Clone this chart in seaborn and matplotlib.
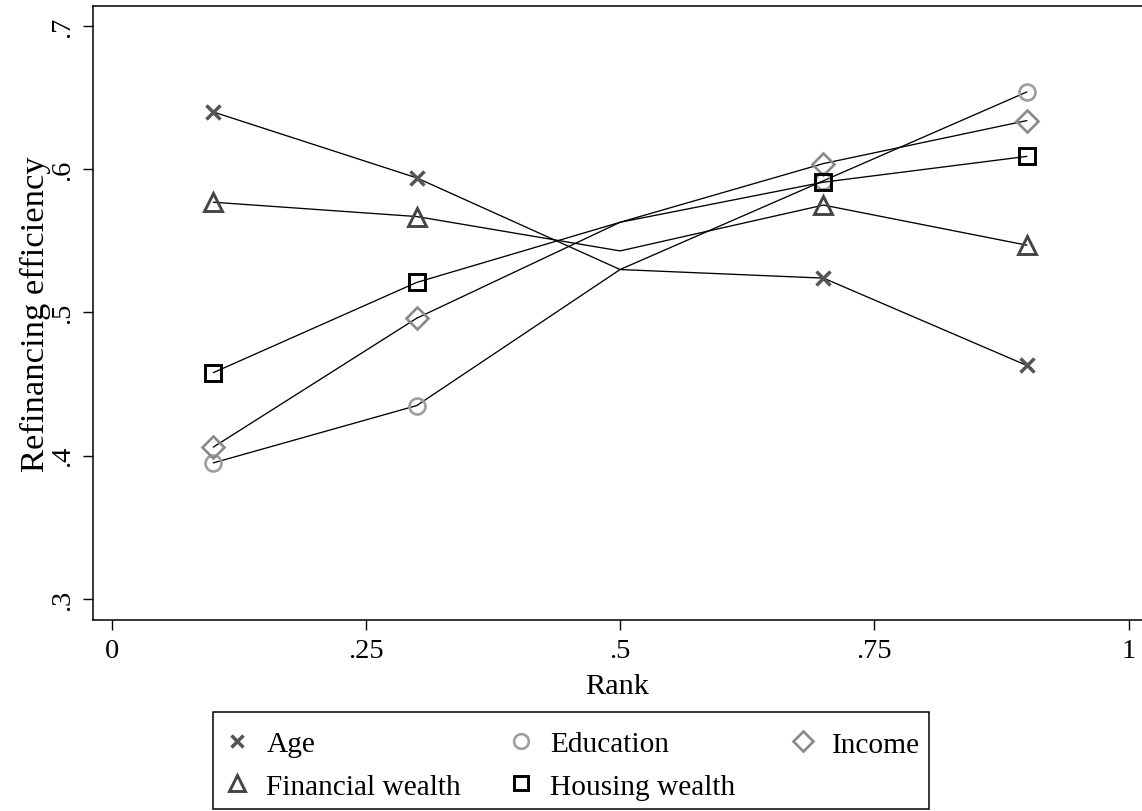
import matplotlib
matplotlib.use("Agg")
import matplotlib.pyplot as plt
import seaborn as sns
import pandas as pd
from matplotlib.lines import Line2D
from matplotlib.patches import Rectangle

# ---------------- data ----------------
rank = [0.1, 0.3, 0.5, 0.7, 0.9]
marked_points = [0, 1, 3, 4]          # points that carry a marker (none at .5)
age = [0.640, 0.594, 0.530, 0.524, 0.463]
education = [0.395, 0.435, 0.530, 0.592, 0.654]
income = [0.406, 0.496, 0.563, 0.604, 0.634]
financial_wealth = [0.577, 0.567, 0.543, 0.575, 0.547]
housing_wealth = [0.458, 0.521, 0.563, 0.591, 0.609]
series_names = ["Age", "Education", "Income", "Financial wealth", "Housing wealth"]
x_ticks = [0, 0.25, 0.5, 0.75, 1]
x_tick_labels = ["0", ".25", ".5", ".75", "1"]
y_ticks = [0.3, 0.4, 0.5, 0.6, 0.7]
y_tick_labels = [".3", ".4", ".5", ".6", ".7"]

values = {
    "Age": age,
    "Education": education,
    "Income": income,
    "Financial wealth": financial_wealth,
    "Housing wealth": housing_wealth,
}
rows = []
for name in series_names:
    for r, v in zip(rank, values[name]):
        rows.append({"Rank": r, "value": v, "series": name})
df = pd.DataFrame(rows)

styles = {
    "Age": dict(marker="x", mec="#555555", ms=10, mew=2.5),
    "Education": dict(marker="o", mec="#9e9e9e", ms=11.5, mew=1.9),
    "Income": dict(marker="D", mec="#8a8a8a", ms=11.5, mew=1.9),
    "Financial wealth": dict(marker="^", mec="#454545", ms=12.5, mew=2.1),
    "Housing wealth": dict(marker="s", mec="#000000", ms=11, mew=2.1),
}

# ---------------- style ----------------
sns.set_theme(style="white")
plt.rcParams["font.family"] = ["Liberation Serif", "DejaVu Serif"]
FS_TICK = 20.5
FS_XLAB = 21.8
FS_YLAB = 24.8
FS_LEG = 21.2

W, H = 1142, 812
fig = plt.figure(figsize=(W / 100, H / 100), dpi=100)
L, R, B, T = 92.8, 1142, 621, 7
ax = fig.add_axes([L / W, (H - B) / H, (R - L) / W, (B - T) / H])

for name in series_names:
    st = styles[name]
    sns.lineplot(
        data=df[df["series"] == name], x="Rank", y="value",
        color="black", linewidth=0.95, ax=ax, sort=True,
        marker=st["marker"], markevery=marked_points,
        markerfacecolor="none", markeredgecolor=st["mec"],
        markersize=st["ms"], markeredgewidth=st["mew"],
    )

ax.set_xlim(-0.0185, 1.0132)
ax.set_ylim(0.2853, 0.714)
ax.set_xticks(x_ticks)
ax.set_xticklabels(x_tick_labels)
ax.set_yticks(y_ticks)
ax.set_yticklabels(y_tick_labels, rotation=90, va="center")
ax.tick_params(axis="both", which="major", direction="out", length=7,
               width=1.0, color="black", labelsize=FS_TICK, labelcolor="black",
               left=True, bottom=True)
ax.tick_params(axis="x", pad=6)
ax.tick_params(axis="y", pad=6)
ax.set_xlabel("Rank", fontsize=FS_XLAB, color="black", labelpad=7)
ax.set_ylabel("Refinancing efficiency", fontsize=FS_YLAB, color="black", labelpad=-1)

for side in ["left", "bottom", "top"]:
    ax.spines[side].set_visible(True)
    ax.spines[side].set_color("black")
    ax.spines[side].set_linewidth(1.1)
ax.spines["right"].set_visible(False)
ax.grid(False)

# ---------------- legend ----------------
fig.patches.append(Rectangle((213 / W, (H - 810) / H), (929 - 213) / W,
                             (810 - 712.7) / H, transform=fig.transFigure,
                             fill=False, edgecolor="black", linewidth=1.1))

def handle(name):
    st = styles[name]
    return Line2D([], [], linestyle="none", marker=st["marker"],
                  markerfacecolor="none", markeredgecolor=st["mec"],
                  markersize=st["ms"] * 0.92, markeredgewidth=st["mew"])

columns = [(["Age", "Financial wealth"], 225),
           (["Education", "Housing wealth"], 509),
           (["Income"], 791)]
for names, xleft in columns:
    yc = 766.3 if len(names) == 2 else 745.2
    leg = fig.legend(
        [handle(n) for n in names], names,
        loc="center left", bbox_to_anchor=(xleft / W, (H - yc) / H),
        bbox_transform=fig.transFigure, frameon=False, fontsize=FS_LEG,
        handlelength=0.8, handletextpad=0.6, borderpad=0, borderaxespad=0,
        labelspacing=0.53,
    )
    for t in leg.get_texts():
        t.set_color("black")

fig.savefig("out.png", dpi=100)
